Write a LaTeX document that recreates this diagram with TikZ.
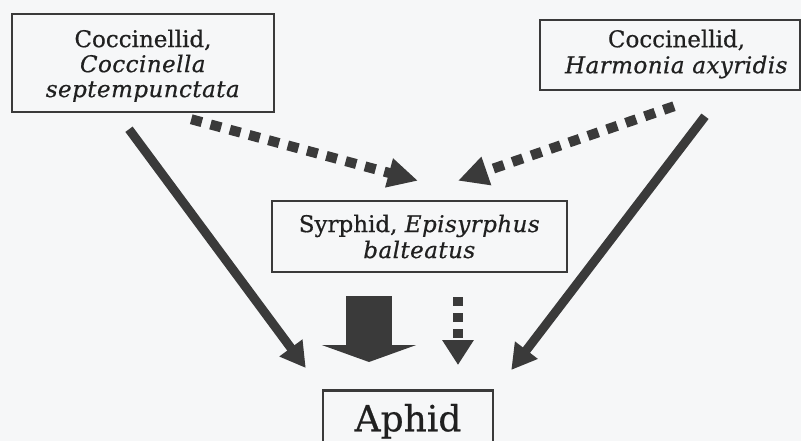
\documentclass[tikz,border=0pt]{standalone}
\usepackage{fontspec}
\setmainfont[FakeBold=0.6,ItalicFeatures={LetterSpace=2}]{DejaVu Serif}
\usetikzlibrary{arrows.meta,calc}
\definecolor{lc}{RGB}{58,58,58}
\definecolor{tc}{RGB}{32,32,32}
\definecolor{bg}{RGB}{246,247,248}
\tikzset{
  box/.style={draw=lc, line width=2.5pt, fill=bg, text=tc, align=center, inner sep=0pt,
    font=\fontsize{23}{25}\selectfont},
  solidarrow/.style={draw=lc, line width=9pt, -{Triangle[width=27pt,length=25pt]}},
  dotarrow/.style={draw=lc, line width=10pt, dash pattern=on 11pt off 9pt,
    -{Triangle[width=28pt,length=30pt]}},
  smalldash/.style={draw=lc, line width=10pt, dash pattern=on 9pt off 7pt,
    -{Triangle[width=30pt,length=25pt]}},
  blockarrow/.style={draw=lc, line width=46pt, -{Triangle[width=94pt,length=17pt]}}
}
\begin{document}
\begin{tikzpicture}[x=1pt,y=-1pt]
\fill[bg] (0,0) rectangle (801,441);
\useasboundingbox (0,0) rectangle (801,441);
\clip (0,0) rectangle (801,441);
\node[box, minimum width=262pt, minimum height=98pt] (c1) at (143,63)
  {\rule{0pt}{23pt}Coccinellid,\\ \textit{Coccinella}\\ \textit{septempunctata}};
\node[box, minimum width=260pt, minimum height=70pt, font=\fontsize{23}{26}\selectfont] (c2) at (670,55)
  {\hspace*{13pt}\begin{tabular}{@{}c@{}}Coccinellid,\\ \addfontfeatures{LetterSpace=6}\textit{Harmonia axyridis}\end{tabular}};
\node[box, minimum width=295pt, minimum height=71pt, font=\fontsize{23}{26}\selectfont] (syr) at (419.5,236.5)
  {Syrphid, \textit{Episyrphus}\\ \textit{balteatus}};
\node[box, anchor=north, minimum width=170pt, inner ysep=9pt, text height=32pt, text depth=30pt,
  font=\fontsize{36}{40}\selectfont] (aph) at (408,389) {Aphid};
% connectors
\draw[solidarrow] ($(c1.south)+(-14,16)$) -- ($(aph.north west)+(-16,-21)$);
\draw[solidarrow] ($(c2.south)+(35,25)$) -- ($(aph.north east)+(17,-19)$);
\draw[dotarrow] ($(c1.south east)+(-84,6)$) -- ($(syr.north)+(-1.5,-19)$);
\draw[dotarrow] ($(c2.south)+(4,15)$) -- ($(syr.north)+(38.5,-19)$);
\draw[blockarrow] ($(syr.south)+(-50.5,23)$) -- ($(aph.north)+(-39,-27)$);
\draw[smalldash] ($(syr.south)+(38.5,24)$) -- ($(aph.north)+(50,-24)$);
\end{tikzpicture}
\end{document}
